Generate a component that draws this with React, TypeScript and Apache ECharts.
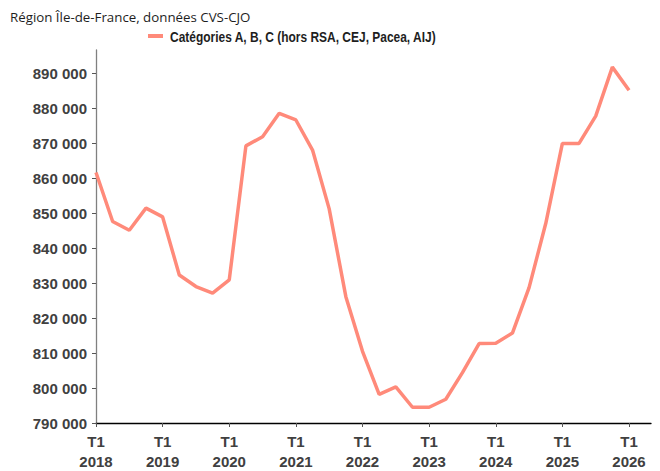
import React, { useEffect, useRef } from "react";
import * as echarts from "echarts";

const quarters: string[] = [
  "T1 2018", "T2 2018", "T3 2018", "T4 2018",
  "T1 2019", "T2 2019", "T3 2019", "T4 2019",
  "T1 2020", "T2 2020", "T3 2020", "T4 2020",
  "T1 2021", "T2 2021", "T3 2021", "T4 2021",
  "T1 2022", "T2 2022", "T3 2022", "T4 2022",
  "T1 2023", "T2 2023", "T3 2023", "T4 2023",
  "T1 2024", "T2 2024", "T3 2024", "T4 2024",
  "T1 2025", "T2 2025", "T3 2025", "T4 2025",
  "T1 2026",
];

const valuesABC: number[] = [
  861600, 847600, 845100, 851400,
  848900, 832300, 829000, 827100,
  830900, 869200, 871800, 878500,
  876600, 868000, 851200, 826100,
  810500, 798200, 800300, 794500,
  794500, 796800, 804400, 812700,
  812800, 815700, 828700, 847000,
  869900, 869900, 877700, 891700,
  885100,
];

const yTicks: number[] = [790000, 800000, 810000, 820000, 830000, 840000, 850000, 860000, 870000, 880000, 890000];
const xTickIdx: number[] = [0, 4, 8, 12, 16, 20, 24, 28, 32];

const seriesName = "Catégories A, B, C (hors RSA, CEJ, Pacea, AIJ)";
const titleText = "Région Île-de-France, données CVS-CJO";
const lineColor = "#FF8A7A";

export default function App() {
  const ref = useRef<HTMLDivElement>(null);
  useEffect(() => {
    if (!ref.current) return;
    const chart = echarts.init(ref.current, null, { renderer: "svg" });
    const fmtY = (v: number) =>
      String(Math.round(v)).replace(/\B(?=(\d{3})+(?!\d))/g, " ");
    chart.setOption({
      animation: false,
      backgroundColor: "#ffffff",
      title: {
        text: titleText,
        left: 5,
        top: 5,
        textStyle: {
          fontFamily: "Open Sans",
          fontSize: 13.3,
          fontWeight: "normal",
          color: "#1e1e1e",
        },
      },
      legend: { show: false, data: [seriesName] },
      graphic: [
        {
          type: "rect",
          shape: { x: 148, y: 34, width: 15, height: 4 },
          style: { fill: lineColor },
        },
        {
          type: "text",
          x: 170,
          y: 37,
          scaleX: 0.855,
          style: {
            text: seriesName,
            font: "bold 14px 'Liberation Sans'",
            fill: "#1e1e1e",
            textVerticalAlign: "middle",
            textAlign: "left",
          },
        },
      ],
      grid: { left: 96, right: 9, top: 50, bottom: 44, containLabel: false },
      xAxis: {
        type: "value",
        min: 0,
        max: 33.32,
        axisLine: { show: true, lineStyle: { color: "#000000", width: 1.3 } },
        axisTick: {
          show: true,
          customValues: xTickIdx,
          length: 4,
          lineStyle: { color: "#555555" },
        },
        splitLine: { show: false },
        axisLabel: {
          customValues: xTickIdx,
          margin: 8,
          formatter: (v: number) => {
            const q = quarters[Math.round(v)] || "";
            const [t, y] = q.split(" ");
            return t + "\n" + y;
          },
          fontFamily: "Liberation Sans",
          fontSize: 15,
          fontWeight: "bold",
          color: "#404040",
          lineHeight: 20,
        },
      },
      yAxis: {
        type: "value",
        min: 790000,
        max: 896600,
        axisLine: { show: true, lineStyle: { color: "#808080", width: 1.3 } },
        axisTick: {
          show: true,
          customValues: yTicks,
          length: 4,
          lineStyle: { color: "#555555" },
        },
        splitLine: { show: false },
        axisLabel: {
          customValues: yTicks,
          margin: 9,
          formatter: fmtY,
          fontFamily: "Liberation Sans",
          fontSize: 15,
          fontWeight: "bold",
          color: "#404040",
        },
      },
      series: [
        {
          name: seriesName,
          type: "line",
          data: valuesABC.map((v, i) => [i, v]),
          showSymbol: false,
          symbol: "none",
          lineStyle: { color: lineColor, width: 3.5 },
          itemStyle: { color: lineColor },
        },
      ],
    });
    return () => chart.dispose();
  }, []);
  return <div ref={ref} style={{ width: 660, height: 471, position: "absolute", left: 0, top: 0 }} />;
}
